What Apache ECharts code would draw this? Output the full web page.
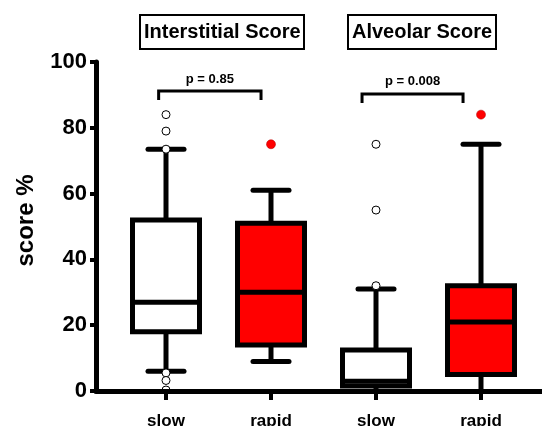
<!DOCTYPE html>
<html><head><meta charset="utf-8">
<script src="https://cdn.jsdelivr.net/npm/echarts@6/dist/echarts.min.js"></script>
<style>html,body{margin:0;padding:0;background:#fff}#c{width:542px;height:426px}</style>
</head><body><div id="c"></div>
<script>
const categories = ['slow', 'rapid', 'slow', 'rapid'];
const groupColors = ['#ffffff', '#ff0000', '#ffffff', '#ff0000'];
// [min, Q1, median, Q3, max]
const boxStats = [
  [6, 18, 27, 52, 73.5],
  [9, 14, 30, 51, 61],
  [0, 1.5, 3, 12.5, 31],
  [0, 5, 21, 32, 75]
];
const outliers = [
  [84, 79, 73.5, 5.5, 3.2, 0.3],
  [75],
  [75, 55, 32],
  [84]
];
const panelTitles = ['Interstitial Score', 'Alveolar Score'];
const pLabels = ['p = 0.85', 'p = 0.008'];
const bracketEnds = [[-0.07, 0.905], [1.867, 2.829]];
const bracketHeights = [91.2, 90.3];
const yTicks = [0, 20, 40, 60, 80, 100];

const FONT = 'Arial, "Liberation Sans", sans-serif';
const chart = echarts.init(document.getElementById('c'), null, {renderer: 'canvas'});

function renderBox(params, api) {
  const i = api.value(0);
  const x = api.coord([i, 0])[0];
  const y = k => api.coord([i, api.value(k)])[1];
  const yMin = y(1), yQ1 = y(2), yMed = y(3), yQ3 = y(4), yMax = y(5);
  const hw = 33.5, cw = 18;
  const ls = {stroke: '#000', lineWidth: 5};
  const children = [
    {type: 'line', shape: {x1: x, y1: yMax, x2: x, y2: yQ3}, style: ls},
    {type: 'line', shape: {x1: x, y1: yQ1, x2: x, y2: yMin}, style: ls},
    {type: 'line', shape: {x1: x - cw, y1: yMax, x2: x + cw, y2: yMax}, style: {stroke: '#000', lineWidth: 5, lineCap: 'round'}}
  ];
  if (api.value(1) > 0) {
    children.push({type: 'line', shape: {x1: x - cw, y1: yMin, x2: x + cw, y2: yMin}, style: {stroke: '#000', lineWidth: 5, lineCap: 'round'}});
  }
  children.push(
    {type: 'rect', shape: {x: x - hw, y: yQ3, width: 2 * hw, height: yQ1 - yQ3}, style: {fill: groupColors[params.dataIndex], stroke: '#000', lineWidth: 5}},
    {type: 'line', shape: {x1: x - hw, y1: yMed, x2: x + hw, y2: yMed}, style: ls}
  );
  return {type: 'group', children: children};
}

function renderBracket(params, api) {
  const h = api.value(1);
  const p0 = api.coord([0, h]);
  const p1 = api.coord([1, h]);
  const bw = p1[0] - p0[0];
  const ends = bracketEnds[params.dataIndex];
  const xa = p0[0] + ends[0] * bw, xb = p0[0] + ends[1] * bw;
  const yb = p0[1];
  const leg = 9;
  return {type: 'group', children: [
    {type: 'polyline', shape: {points: [[xa, yb + leg], [xa, yb], [xb, yb], [xb, yb + leg]]}, style: {stroke: '#000', lineWidth: 3, fill: null}},
    {type: 'text', style: {text: pLabels[params.dataIndex], x: (xa + xb) / 2, y: yb - 12, align: 'center', verticalAlign: 'middle', font: 'bold 13px ' + FONT, fill: '#000'}}
  ]};
}

const whitePts = [], redPts = [];
outliers.forEach((arr, i) => arr.forEach(v => (groupColors[i] === '#ffffff' ? whitePts : redPts).push([i, v])));

const option = {
  backgroundColor: '#fff',
  animation: false,
  title: panelTitles.map((t, i) => ({
    text: t, left: [140, 348][i], top: 15, padding: [6, 4, 6, 4],
    borderColor: '#000', borderWidth: 2,
    textStyle: {fontFamily: FONT, fontWeight: 'bold', fontSize: 20, lineHeight: 22, color: '#000'}
  })),
  grid: [
    {left: 113.5, right: 8.5, top: 62, bottom: 35, containLabel: false, outerBoundsMode: 'none'},
    {left: 96, right: 0, top: 62, bottom: 35, containLabel: false, outerBoundsMode: 'none'}
  ],
  xAxis: [
    {type: 'category', gridIndex: 0, data: categories,
      axisLine: {show: false},
      axisTick: {show: true, alignWithLabel: true, length: 9, lineStyle: {width: 4, color: '#000'}},
      axisLabel: {margin: 22, fontFamily: FONT, fontWeight: 'bold', fontSize: 17, color: '#000'},
      splitLine: {show: false}},
    {type: 'value', gridIndex: 1, min: 0, max: 1, z: 10,
      axisLine: {show: true, lineStyle: {width: 5, color: '#000'}},
      axisTick: {show: false}, axisLabel: {show: false}, splitLine: {show: false}}
  ],
  yAxis: [
    {type: 'value', gridIndex: 0, min: 0, max: 100, show: false},
    {type: 'value', gridIndex: 1, min: yTicks[0], max: yTicks[yTicks.length - 1], interval: 20, z: 10,
      axisLine: {show: true, lineStyle: {width: 5, color: '#000'}},
      axisTick: {show: true, length: 6, lineStyle: {width: 4, color: '#000'}},
      axisLabel: {margin: 9, fontFamily: FONT, fontWeight: 'bold', fontSize: 22, color: '#000'},
      splitLine: {show: false},
      name: 'score %', nameLocation: 'middle', nameRotate: 90, nameGap: 58,
      nameTextStyle: {fontFamily: FONT, fontWeight: 'bold', fontSize: 24, color: '#000', padding: [0, 0, 0, 12]}}
  ],
  series: [
    {type: 'custom', xAxisIndex: 0, yAxisIndex: 0, renderItem: renderBox,
      encode: {x: 0, y: [1, 2, 3, 4, 5]},
      data: boxStats.map((s, i) => [i].concat(s)), z: 2},
    {type: 'scatter', xAxisIndex: 0, yAxisIndex: 0, symbol: 'circle', symbolSize: 8,
      itemStyle: {color: '#fff', borderColor: '#000', borderWidth: 1, opacity: 1},
      data: whitePts, z: 3},
    {type: 'scatter', xAxisIndex: 0, yAxisIndex: 0, symbol: 'circle', symbolSize: 9,
      itemStyle: {color: '#ff0000', borderColor: '#b00000', borderWidth: 0.5, opacity: 1},
      data: redPts, z: 3},
    {type: 'custom', xAxisIndex: 0, yAxisIndex: 0, renderItem: renderBracket, clip: false,
      encode: {x: 0, y: 1},
      data: bracketHeights.map((h, i) => [i, h]), z: 4}
  ]
};
chart.setOption(option);
</script>
</body></html>
